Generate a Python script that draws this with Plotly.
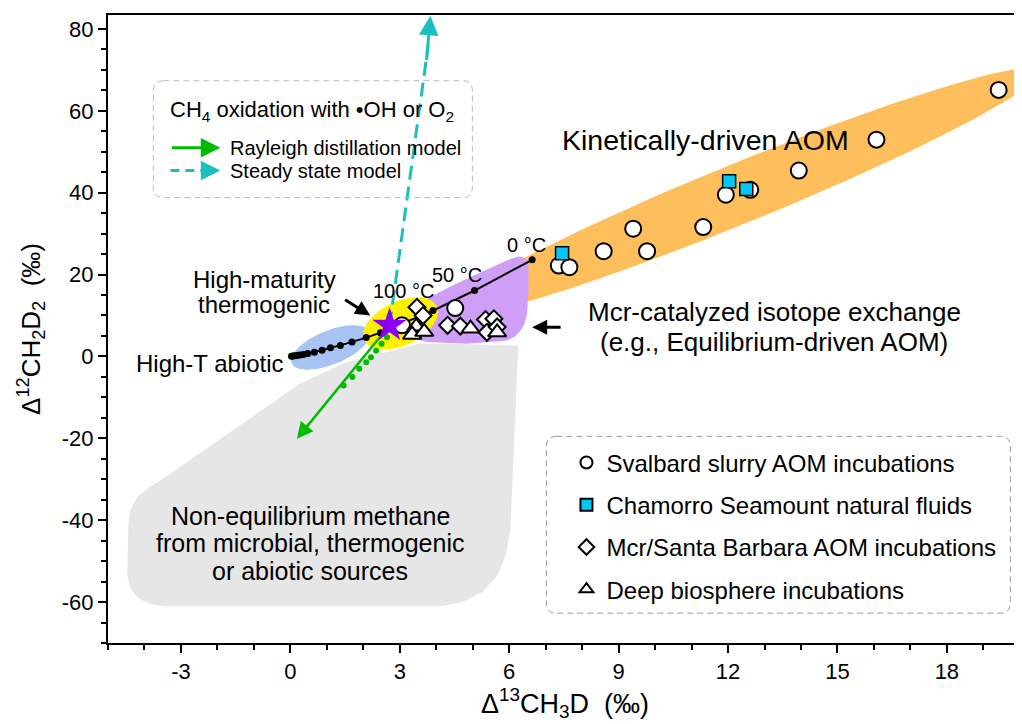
import numpy as np
import plotly.graph_objects as go

# ---------------- data ----------------
SVALBARD_X = [19.42, 16.07, 13.94, 11.94, 12.61, 9.40, 11.32, 8.59, 9.78, 7.36, 7.65, 4.52, 3.06]
SVALBARD_Y = [65.1, 52.95, 45.4, 39.5, 40.7, 31.2, 31.6, 25.7, 25.7, 22.2, 21.8, 11.8, 7.6]
CHAMORRO_X = [12.03, 12.50, 7.45]
CHAMORRO_Y = [42.8, 40.9, 25.2]
MCR_X = [3.47, 3.64, 4.31, 4.66, 5.35, 5.58, 5.39, 5.67]
MCR_Y = [12.0, 10.0, 7.6, 7.4, 9.0, 9.2, 5.9, 7.2]
DEEP_X = [3.45, 3.34, 3.67, 4.94, 5.67]
DEEP_Y = [7.3, 5.3, 6.0, 6.8, 5.9]
STAR_X = [2.72]
STAR_Y = [7.6]

# equilibrium curve (0, 50, 100 ... degC towards infinite T)
EQ_X = [6.63, 5.05, 3.91, 3.05, 2.47, 2.08, 1.69, 1.37, 1.10, 0.87, 0.66, 0.48, 0.36, 0.26, 0.18, 0.12, 0.07, 0.03]
EQ_Y = [23.6, 16.1, 11.2, 8.0, 5.8, 4.6, 3.5, 2.7, 2.1, 1.5, 1.05, 0.7, 0.5, 0.35, 0.22, 0.14, 0.08, 0.03]
EQ_LABELS = ["0 °C", "50 °C", "100 °C"]
EQ_LABEL_X = [6.48, 4.57, 3.10]
EQ_LABEL_Y = [27.1, 19.8, 16.1]

# CH4 oxidation models
RAYLEIGH_X = [2.72, 0.30]
RAYLEIGH_Y = [7.6, -18.8]
RAYLEIGH_DOT_X = [2.65, 2.50, 2.35, 2.21, 2.08, 1.89, 1.70, 1.46]
RAYLEIGH_DOT_Y = [4.7, 3.1, 1.4, -0.2, -1.4, -3.0, -5.0, -7.1]
RAYLEIGH_TIP = (0.18, -20.1)
STEADY_X = [2.72, 3.78]
STEADY_Y = [7.6, 76.0]
STEADY_TIP = (3.84, 83.2)

# region outlines
GRAY_X = [3.56, 1.51, 0.27, -3.56, -3.89, -4.20, -4.39, -4.44, -4.47, -4.39, -4.17, -3.84, -3.43,
          4.11, 4.72, 5.26, 5.68, 5.90, 6.03, 6.25]
GRAY_Y = [3.17, -1.46, -6.59, -30.3, -32.0, -34.4, -37.6, -40.8, -53.4, -56.6, -59.1, -60.5, -61.0,
          -61.0, -60.0, -57.6, -53.4, -48.6, -42.5, 2.7]
PURPLE_X = [3.56, 4.39, 5.21, 6.03, 6.25, 6.40, 6.50, 6.53, 6.53, 6.49, 6.42, 6.31, 6.15, 5.94, 4.85, 3.75, 3.45, 3.29, 3.18, 3.15, 3.30]
PURPLE_Y = [13.25, 17.1, 20.5, 23.8, 24.4, 24.2, 23.3, 21.8, 16.1, 10.4, 8.0, 6.3, 4.8, 3.9, 3.1, 3.5, 4.2, 5.1, 6.8, 8.8, 11.4]
ORANGE_ELLIPSE = dict(cx=12.34, cy=39.9, a=324, b=30, ang=22.2)
YELLOW_ELLIPSE = dict(cx=3.02, cy=8.05, a=40, b=22, ang=25)
BLUE_ELLIPSE = dict(cx=1.10, cy=2.2, a=42, b=17, ang=22)

X_TICKS = [-3, 0, 3, 6, 9, 12, 15, 18]
Y_TICKS = [-60, -40, -20, 0, 20, 40, 60, 80]

# ---------------- layout geometry ----------------
X_RANGE = [-5, 20.06]
Y_RANGE = [-70, 83.4]
W, H = 1022, 724
# the page body adds an 8 px offset, compensated here
MARGIN = dict(l=100, r=8, t=7, b=89)
PX_X = (W - MARGIN["l"] - MARGIN["r"]) / (X_RANGE[1] - X_RANGE[0])
PX_Y = (H - MARGIN["t"] - MARGIN["b"]) / (Y_RANGE[1] - Y_RANGE[0])

FONT = "Liberation Sans, Arial, sans-serif"


def ellipse(cx, cy, a, b, ang, n=160):
    t = np.linspace(0, 2 * np.pi, n)
    th = np.radians(ang)
    u, v = a * np.cos(t), b * np.sin(t)
    dx = u * np.cos(th) - v * np.sin(th)
    dy = u * np.sin(th) + v * np.cos(th)
    return cx + dx / PX_X, cy + dy / PX_Y


def rounded_box(x0, y0, x1, y1, r=10):
    rx, ry = r / PX_X, r / PX_Y
    return (f"M {x0+rx},{y1} L {x1-rx},{y1} Q {x1},{y1} {x1},{y1-ry} "
            f"L {x1},{y0+ry} Q {x1},{y0} {x1-rx},{y0} L {x0+rx},{y0} "
            f"Q {x0},{y0} {x0},{y0+ry} L {x0},{y1-ry} Q {x0},{y1} {x0+rx},{y1} Z")


fig = go.Figure()


def region(x, y, color):
    fig.add_trace(go.Scatter(x=list(x) + [x[0]], y=list(y) + [y[0]], mode="lines", fill="toself",
                             fillcolor=color, line=dict(width=0, color=color),
                             hoverinfo="skip", showlegend=False))


region(GRAY_X, GRAY_Y, "#E6E6E6")
region(*ellipse(**ORANGE_ELLIPSE), "#FDBE5B")
region(PURPLE_X, PURPLE_Y, "#CF9FF8")
region(*ellipse(**BLUE_ELLIPSE), "#A7C4F5")
region(*ellipse(**YELLOW_ELLIPSE), "#FFF200")

# model lines
fig.add_trace(go.Scatter(x=STEADY_X, y=STEADY_Y, mode="lines",
                         line=dict(color="#1CBFC0", width=3, dash="14px,7px"),
                         hoverinfo="skip", showlegend=False))
fig.add_trace(go.Scatter(x=RAYLEIGH_X, y=RAYLEIGH_Y, mode="lines",
                         line=dict(color="#00BB00", width=2.5),
                         hoverinfo="skip", showlegend=False))
fig.add_trace(go.Scatter(x=RAYLEIGH_DOT_X, y=RAYLEIGH_DOT_Y, mode="markers",
                         marker=dict(color="#00BB00", size=6),
                         hoverinfo="skip", showlegend=False))

# equilibrium line
fig.add_trace(go.Scatter(x=EQ_X, y=EQ_Y, mode="lines+markers",
                         line=dict(color="black", width=2),
                         marker=dict(color="black", size=7),
                         hoverinfo="skip", showlegend=False))

# data series
fig.add_trace(go.Scatter(x=SVALBARD_X, y=SVALBARD_Y, mode="markers", name="Svalbard slurry AOM incubations",
                         legendgroup="a",
                         marker=dict(symbol="circle", size=16, color="white", line=dict(color="black", width=2))))
fig.add_trace(go.Scatter(x=CHAMORRO_X, y=CHAMORRO_Y, mode="markers", name="Chamorro Seamount natural fluids",
                         legendgroup="b",
                         marker=dict(symbol="square", size=13, color="#00C8F5", line=dict(color="black", width=1.5))))
fig.add_trace(go.Scatter(x=MCR_X, y=MCR_Y, mode="markers", name="Mcr/Santa Barbara AOM incubations",
                         legendgroup="c",
                         marker=dict(symbol="diamond", size=13, color="white", line=dict(color="black", width=2))))
fig.add_trace(go.Scatter(x=DEEP_X, y=DEEP_Y, mode="markers", name="Deep biosphere incubations",
                         legendgroup="d",
                         marker=dict(symbol="triangle-up", size=16, color="white", line=dict(color="black", width=2))))
fig.add_trace(go.Scatter(x=STAR_X, y=STAR_Y, mode="markers", showlegend=False, hoverinfo="skip",
                         marker=dict(symbol="star", size=26, color="#8A00F0", line=dict(color="#8A00F0", width=0))))

ann = []
# equilibrium temperature labels
for t, lx, ly in zip(EQ_LABELS, EQ_LABEL_X, EQ_LABEL_Y):
    ann.append(dict(x=lx, y=ly, text=t, showarrow=False, font=dict(size=20)))

# arrowheads of model lines
ann.append(dict(x=RAYLEIGH_TIP[0], y=RAYLEIGH_TIP[1], ax=RAYLEIGH_X[1] + 0.25, ay=RAYLEIGH_Y[1] + 2.8,
                axref="x", ayref="y", text="", showarrow=True, arrowhead=2, arrowsize=1.3,
                arrowwidth=2.5, arrowcolor="#00BB00"))
ann.append(dict(x=STEADY_TIP[0], y=STEADY_TIP[1], ax=STEADY_X[1] - 0.05, ay=STEADY_Y[1] - 4,
                axref="x", ayref="y", text="", showarrow=True, arrowhead=2, arrowsize=1.3,
                arrowwidth=3, arrowcolor="#1CBFC0"))


def label(x, y, lines, size, dy_px, xanchor="center"):
    n = len(lines)
    for i, s in enumerate(lines):
        off = ((n - 1) / 2 - i) * dy_px / PX_Y
        ann.append(dict(x=x, y=y + off, text=s, showarrow=False, xanchor=xanchor, font=dict(size=size)))


label(11.39, 52.95, ["Kinetically-driven AOM"], 28.5, 0)
label(13.27, 7.08, ["Mcr-catalyzed isotope exchange", "(e.g., Equilibrium-driven AOM)"], 26, 30)
label(-0.71, 15.75, ["High-maturity", "thermogenic"], 24, 25)
label(-0.11, -1.7, ["High-T abiotic"], 24, 0, xanchor="right")
label(0.55, -45.6, ["Non-equilibrium methane", "from microbial, thermogenic", "or abiotic sources"], 25, 27.5)

# black pointer arrows
ann.append(dict(x=2.19, y=10.0, ax=1.46, ay=14.1, axref="x", ayref="y", text="", showarrow=True,
                arrowhead=2, arrowsize=1, arrowwidth=3, arrowcolor="black"))
ann.append(dict(x=6.63, y=7.15, ax=7.45, ay=7.15, axref="x", ayref="y", text="", showarrow=True,
                arrowhead=2, arrowsize=1, arrowwidth=3, arrowcolor="black"))

# top-left legend box contents
ann.append(dict(x=0.60, y=60.0, text="CH<sub>4</sub> oxidation with •OH or O<sub>2</sub>", showarrow=False,
                font=dict(size=22)))
ann.append(dict(x=-1.92, y=51.0, ax=-3.29, ay=51.0, axref="x", ayref="y", text="", showarrow=True,
                arrowhead=2, arrowsize=1.3, arrowwidth=3, arrowcolor="#00BB00"))
ann.append(dict(x=-1.92, y=45.4, ax=-2.35, ay=45.4, axref="x", ayref="y", text="", showarrow=True,
                arrowhead=2, arrowsize=1.3, arrowwidth=3, arrowcolor="#1CBFC0"))
ann.append(dict(x=-1.72, y=51.0, text="Rayleigh distillation model", showarrow=False, xanchor="left",
                font=dict(size=20)))
ann.append(dict(x=-1.72, y=45.4, text="Steady state model", showarrow=False, xanchor="left",
                font=dict(size=20)))

shapes = [
    dict(type="path", xref="x", yref="y", path=rounded_box(-3.757, 38.8, 4.99, 67.35),
         line=dict(color="#BBBBBB", width=1, dash="6px,4px"), layer="above"),
    dict(type="path", xref="x", yref="y", path=rounded_box(7.02, -62.71, 19.74, -19.52),
         line=dict(color="#999999", width=1, dash="6px,4px"), layer="above"),
    dict(type="line", xref="x", yref="y", x0=-3.29, x1=-2.4, y0=45.4, y1=45.4,
         line=dict(color="#1CBFC0", width=3, dash="9px,6px")),
]

fig.update_layout(
    width=W, height=H, margin=MARGIN,
    plot_bgcolor="white", paper_bgcolor="white",
    font=dict(family=FONT, size=22, color="black"),
    annotations=ann, shapes=shapes,
    showlegend=True,
    legend=dict(x=0.5016, y=0.3225, xanchor="left", yanchor="top", bgcolor="rgba(0,0,0,0)",
                borderwidth=0, font=dict(size=24), itemsizing="constant", tracegroupgap=8),
)
fig.update_xaxes(range=X_RANGE, showgrid=False, zeroline=False, showline=True, linecolor="black",
                 linewidth=2, mirror=True, ticks="outside", ticklen=8, tickwidth=1.5, tickcolor="black",
                 automargin=False,
                 tickmode="array", tickvals=X_TICKS, ticktext=[str(v) for v in X_TICKS],
                 tickfont=dict(size=22),
                 minor=dict(dtick=1, tick0=0, ticks="outside", ticklen=5, tickwidth=1.5, tickcolor="black"),
                 title=dict(text="Δ<sup>13</sup>CH<sub>3</sub>D\u00a0\u00a0(‰)", font=dict(size=27), standoff=10))
fig.update_yaxes(range=Y_RANGE, showgrid=False, zeroline=False, showline=True, linecolor="black",
                 linewidth=2, ticks="outside", ticklen=8, tickwidth=1.5, tickcolor="black",
                 automargin=False,
                 tickmode="array", tickvals=Y_TICKS, ticktext=[str(v) for v in Y_TICKS],
                 tickfont=dict(size=22),
                 minor=dict(dtick=5, tick0=0, ticks="outside", ticklen=5, tickwidth=1.5, tickcolor="black"),
                 title=dict(text="Δ<sup>12</sup>CH<sub>2</sub>D<sub>2</sub>\u00a0\u00a0(‰)", font=dict(size=26),
                            standoff=14))

fig.write_html("out.html")
